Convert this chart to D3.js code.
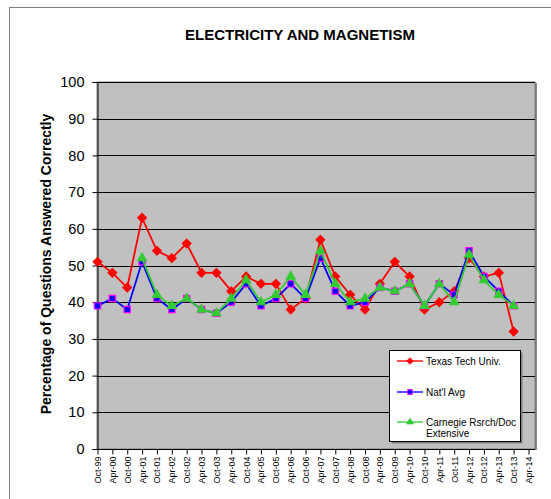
<!DOCTYPE html>
<html lang="en">
<head>
<meta charset="UTF-8">
<title>Electricity and Magnetism</title>
<script src="https://d3js.org/d3.v7.min.js"></script>
<style>
  body { margin: 0; background: #fff; }
  svg { display: block; font-family: "Liberation Sans", Arial, sans-serif; }
</style>
</head>
<body>
<svg id="chart" width="551" height="499"></svg>
<script>
// categories (test dates)
const fechas = ["Oct-99","Apr-00","Oct-00","Apr-01","Oct-01","Apr-02","Oct-02","Apr-03","Oct-03","Apr-04",
  "Oct-04","Apr-05","Oct-05","Apr-06","Oct-06","Apr-07","Oct-07","Apr-08","Oct-08","Apr-09",
  "Oct-09","Apr-10","Oct-10","Apr-11","Oct-11","Apr-12","Oct-12","Apr-13","Oct-13","Apr-14"];

// series values (percent correct)
const texasTech = [51,48,44,63,54,52,56,48,48,43,47,45,45,38,41,57,47,42,38,45,51,47,38,40,43,52,47,48,32];
const natlAvg   = [39,41,38,51,41,38,41,38,37,40,45,39,41,45,41,52,43,39,40,44,43,45,39,45,42,54,47,43,39];
const carnegie  = [null,null,null,52,42,39,41,38,37,41,46,40,42,47,42,54,45,40,41,44,43,45,39,45,40,53,46,42,39];

const yTicks = [0,10,20,30,40,50,60,70,80,90,100];

const svg = d3.select("#chart");

// outer chart border
svg.append("rect").attr("x", 9.5).attr("y", 7.5).attr("width", 560).attr("height", 520)
  .attr("fill", "#fff").attr("stroke", "#808080");

const x = d3.scalePoint().domain(fechas).range([97.5, 528.5]);
const y = d3.scaleLinear().domain([0, 100]).range([449, 82]);

// plot area
svg.append("rect").attr("x", 97).attr("y", 82).attr("width", 438).attr("height", 367)
  .attr("fill", "#C0C0C0").attr("stroke", "#808080");
svg.append("line").attr("x1", 536).attr("x2", 536).attr("y1", 83).attr("y2", 450)
  .attr("stroke", "#606060").attr("stroke-width", 1.5);

// gridlines
svg.append("g").selectAll("line").data(yTicks.slice(1)).join("line")
  .attr("x1", 97).attr("x2", 535)
  .attr("y1", d => Math.round(y(d)) + 0.5).attr("y2", d => Math.round(y(d)) + 0.5)
  .attr("stroke", "#000").attr("stroke-width", 1.2);

// y axis
const gy = svg.append("g").attr("transform", "translate(97.5,0)")
  .call(d3.axisLeft(y).tickValues(yTicks).tickSize(5).tickPadding(8));
gy.selectAll("path, line").attr("stroke", "#000");
gy.selectAll("text").attr("font-size", "14.5px").attr("fill", "#000")
  .attr("font-family", "Liberation Sans, Arial, sans-serif");

// x axis
const gx = svg.append("g").attr("transform", "translate(0,449.5)")
  .call(d3.axisBottom(x).tickSize(5).tickSizeOuter(0));
gx.select(".domain").attr("d", "M97,0H535").attr("stroke", "#000");
gx.selectAll("line").attr("stroke", "#000");
gx.selectAll("text")
  .attr("font-size", "9px").attr("fill", "#000")
  .attr("font-family", "Liberation Sans, Arial, sans-serif")
  .attr("text-anchor", "end")
  .attr("transform", "rotate(-90)")
  .attr("x", -7).attr("y", 0).attr("dy", "0.33em");

// titles
svg.append("text").attr("x", 300).attr("y", 40).attr("text-anchor", "middle")
  .attr("font-size", "15px").attr("font-weight", "bold").text("ELECTRICITY AND MAGNETISM");
svg.append("text").attr("transform", "translate(51,264) rotate(-90)").attr("text-anchor", "middle")
  .attr("font-size", "14px").attr("font-weight", "bold").text("Percentage of Questions Answered Correctly");

// series
const series = [
  { name: "Texas Tech Univ.", values: texasTech, color: "#FF0000", marker: "diamond", fill: "#FF0000", stroke: "#FF0000" },
  { name: "Nat'l Avg", values: natlAvg, color: "#0000FF", marker: "square", fill: "#0000FF", stroke: "#FF00FF" },
  { name: "Carnegie Rsrch/Doc|Extensive", values: carnegie, color: "#33CC33", marker: "triangle", fill: "#33CC33", stroke: "#33CC33" }
];

const symbols = {
  diamond: d3.symbol().type(d3.symbolDiamond2).size(48),
  square: d3.symbol().type(d3.symbolSquare2).size(50),
  triangle: d3.symbol().type(d3.symbolTriangle2).size(56)
};

const linea = d3.line()
  .defined(d => d.v != null)
  .x(d => x(d.c)).y(d => y(d.v));

series.forEach(s => {
  const pts = s.values.map((v, i) => ({ c: fechas[i], v: v }));
  svg.append("path").datum(pts).attr("d", linea)
    .attr("fill", "none").attr("stroke", s.color).attr("stroke-width", 1.8);
  svg.append("g").selectAll("path").data(pts.filter(d => d.v != null)).join("path")
    .attr("d", symbols[s.marker])
    .attr("transform", d => `translate(${x(d.c)},${y(d.v)})`)
    .attr("fill", s.fill).attr("stroke", s.stroke).attr("stroke-width", 1.2);
});

// legend
const leg = svg.append("g");
leg.append("rect").attr("x", 391.5).attr("y", 352.5).attr("width", 131).attr("height", 91).attr("fill", "#808080");
leg.append("rect").attr("x", 389.5).attr("y", 350.5).attr("width", 131).attr("height", 91)
  .attr("fill", "#fff").attr("stroke", "#000");
const filaY = [361, 392, 422];
series.forEach((s, i) => {
  const g = leg.append("g").attr("transform", `translate(0,${filaY[i]})`);
  g.append("line").attr("x1", 397).attr("x2", 423).attr("stroke", s.color).attr("stroke-width", 1.8).attr("opacity", 0.75);
  g.append("path").attr("d", symbols[s.marker]).attr("transform", "translate(410,0) scale(0.75)")
    .attr("fill", s.fill).attr("stroke", s.stroke).attr("stroke-width", 1.2);
  const t = g.append("text").attr("x", 426).attr("y", 3.5).attr("font-size", "10px");
  s.name.split("|").forEach((part, k) => {
    t.append("tspan").attr("x", 426).attr("dy", k === 0 ? 0 : 11).text(part);
  });
});
</script>
</body>
</html>
